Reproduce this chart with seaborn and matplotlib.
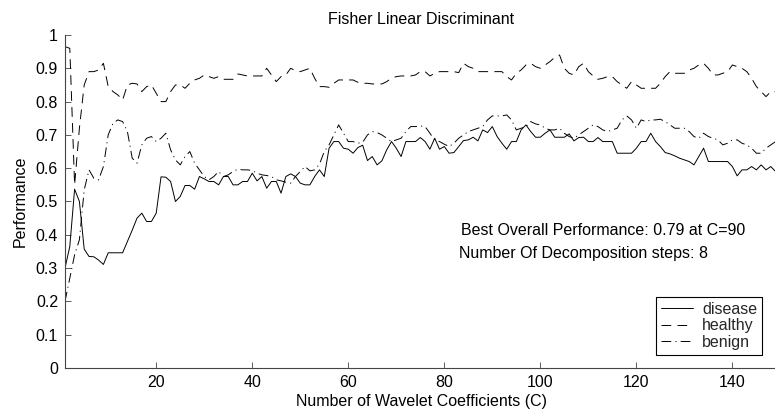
import numpy as np
import pandas as pd
import matplotlib
matplotlib.use("Agg")
import matplotlib.pyplot as plt
import seaborn as sns

# ---------------- data ----------------
C = list(range(1, 150))

disease = [
    0.300, 0.365, 0.537, 0.500, 0.357, 0.335, 0.334, 0.324, 0.311, 0.346,
    0.346, 0.346, 0.346, 0.380, 0.414, 0.450, 0.465, 0.440, 0.440, 0.465,
    0.574, 0.573, 0.560, 0.500, 0.515, 0.548, 0.548, 0.537, 0.575, 0.568,
    0.560, 0.560, 0.550, 0.575, 0.575, 0.550, 0.550, 0.560, 0.560, 0.585,
    0.562, 0.575, 0.540, 0.560, 0.560, 0.525, 0.575, 0.583, 0.575, 0.555,
    0.550, 0.550, 0.575, 0.595, 0.575, 0.660, 0.680, 0.680, 0.660, 0.657,
    0.645, 0.662, 0.669, 0.623, 0.635, 0.610, 0.622, 0.655, 0.680, 0.660,
    0.635, 0.680, 0.680, 0.680, 0.692, 0.680, 0.657, 0.690, 0.657, 0.665,
    0.645, 0.647, 0.665, 0.683, 0.685, 0.693, 0.682, 0.715, 0.707, 0.725,
    0.695, 0.675, 0.657, 0.680, 0.680, 0.715, 0.730, 0.710, 0.693, 0.693,
    0.705, 0.715, 0.693, 0.693, 0.693, 0.703, 0.682, 0.692, 0.693, 0.680,
    0.680, 0.692, 0.680, 0.680, 0.680, 0.645, 0.645, 0.645, 0.645, 0.660,
    0.680, 0.680, 0.705, 0.680, 0.665, 0.647, 0.643, 0.637, 0.630, 0.625,
    0.620, 0.610, 0.635, 0.660, 0.620, 0.620, 0.620, 0.620, 0.620, 0.605,
    0.577, 0.595, 0.595, 0.605, 0.595, 0.610, 0.595, 0.605, 0.590,
]

healthy = [
    0.965, 0.960, 0.550, 0.720, 0.850, 0.890, 0.890, 0.895, 0.915, 0.845,
    0.830, 0.820, 0.805, 0.850, 0.855, 0.853, 0.830, 0.845, 0.850, 0.825,
    0.800, 0.800, 0.830, 0.850, 0.850, 0.840, 0.855, 0.865, 0.870, 0.880,
    0.875, 0.870, 0.875, 0.867, 0.867, 0.867, 0.883, 0.880, 0.877, 0.877,
    0.877, 0.877, 0.900, 0.880, 0.860, 0.875, 0.880, 0.900, 0.893, 0.890,
    0.895, 0.900, 0.870, 0.845, 0.845, 0.843, 0.855, 0.865, 0.865, 0.865,
    0.865, 0.858, 0.855, 0.855, 0.853, 0.853, 0.853, 0.860, 0.870, 0.875,
    0.877, 0.877, 0.877, 0.880, 0.890, 0.890, 0.877, 0.885, 0.890, 0.890,
    0.890, 0.890, 0.887, 0.915, 0.905, 0.900, 0.890, 0.890, 0.890, 0.890,
    0.890, 0.890, 0.875, 0.865, 0.885, 0.895, 0.910, 0.915, 0.905, 0.900,
    0.910, 0.920, 0.933, 0.940, 0.900, 0.885, 0.880, 0.905, 0.915, 0.890,
    0.877, 0.867, 0.870, 0.875, 0.875, 0.860, 0.850, 0.840, 0.860, 0.850,
    0.840, 0.840, 0.840, 0.840, 0.855, 0.875, 0.890, 0.885, 0.885, 0.885,
    0.895, 0.900, 0.910, 0.915, 0.900, 0.880, 0.880, 0.885, 0.890, 0.910,
    0.905, 0.900, 0.890, 0.870, 0.845, 0.830, 0.815, 0.830, 0.830,
]

benign = [
    0.200, 0.270, 0.340, 0.385, 0.535, 0.595, 0.570, 0.565, 0.605, 0.700,
    0.735, 0.745, 0.740, 0.710, 0.630, 0.615, 0.670, 0.690, 0.695, 0.680,
    0.690, 0.705, 0.655, 0.625, 0.610, 0.635, 0.650, 0.615, 0.595, 0.575,
    0.565, 0.575, 0.590, 0.575, 0.580, 0.590, 0.597, 0.595, 0.595, 0.593,
    0.585, 0.580, 0.578, 0.575, 0.565, 0.562, 0.558, 0.555, 0.575, 0.590,
    0.605, 0.592, 0.595, 0.612, 0.650, 0.670, 0.700, 0.730, 0.705, 0.680,
    0.680, 0.675, 0.678, 0.700, 0.710, 0.707, 0.700, 0.690, 0.680, 0.685,
    0.690, 0.710, 0.725, 0.725, 0.727, 0.725, 0.705, 0.685, 0.680, 0.672,
    0.665, 0.675, 0.690, 0.700, 0.710, 0.715, 0.720, 0.725, 0.745, 0.757,
    0.757, 0.757, 0.760, 0.745, 0.715, 0.720, 0.725, 0.740, 0.733, 0.730,
    0.720, 0.715, 0.715, 0.720, 0.705, 0.695, 0.690, 0.700, 0.710, 0.720,
    0.730, 0.725, 0.715, 0.710, 0.715, 0.720, 0.745, 0.757, 0.745, 0.720,
    0.745, 0.740, 0.745, 0.745, 0.747, 0.740, 0.730, 0.720, 0.720, 0.720,
    0.710, 0.695, 0.690, 0.705, 0.695, 0.690, 0.685, 0.670, 0.675, 0.685,
    0.685, 0.675, 0.670, 0.660, 0.645, 0.645, 0.660, 0.670, 0.680,
]

series_names = ["disease", "healthy", "benign"]
x_ticks = [20, 40, 60, 80, 100, 120, 140]
y_ticks = [0, 0.1, 0.2, 0.3, 0.4, 0.5, 0.6, 0.7, 0.8, 0.9, 1]
y_tick_labels = ["0", "0.1", "0.2", "0.3", "0.4", "0.5", "0.6", "0.7", "0.8", "0.9", "1"]

title = "Fisher Linear Discriminant"
xlabel = "Number of Wavelet Coefficients (C)"
ylabel = "Performance"
note1 = "Best Overall Performance: 0.79 at C=90"
note2 = "Number Of Decomposition steps: 8"

df = pd.DataFrame({
    "C": C * 3,
    "Performance": disease + healthy + benign,
    "series": sum([[n] * len(C) for n in series_names], []),
})

# ---------------- style ----------------
sns.set_theme(style="white")
plt.rcParams["font.family"] = ["Liberation Sans", "DejaVu Sans"]
plt.rcParams["lines.scale_dashes"] = False

FS = 11.5
W, H = 775, 416
fig = plt.figure(figsize=(W / 100, H / 100), dpi=100)
fig.patch.set_facecolor("white")
ax = fig.add_axes([65 / W, 48 / H, 713 / W, 333 / H])
ax.set_facecolor("white")

styles = {"disease": "", "healthy": (7, 4.5), "benign": (7, 3, 0.8, 3)}
sns.lineplot(data=df, x="C", y="Performance", hue="series", style="series",
             palette={n: "black" for n in series_names}, dashes=styles,
             linewidth=0.7, ax=ax, legend=True)

ax.set_xlim(1, 149.5)
ax.set_ylim(0, 1)
ax.set_xticks(x_ticks)
ax.set_xticklabels([str(t) for t in x_ticks])
ax.set_yticks(y_ticks)
ax.set_yticklabels(y_tick_labels)

for s in ["top", "right"]:
    ax.spines[s].set_visible(False)
for s in ["left", "bottom"]:
    ax.spines[s].set_color("#444444")
    ax.spines[s].set_linewidth(0.8)

ax.tick_params(axis="both", direction="in", length=4.5, width=0.6, color="#444444",
               labelsize=FS, labelcolor="black", bottom=True, left=True)
ax.tick_params(axis="y", pad=5)
ax.tick_params(axis="x", pad=5)

ax.set_title(title, fontsize=FS, pad=8, color="black")
ax.set_xlabel(xlabel, fontsize=FS, labelpad=3, color="black")
ax.set_ylabel(ylabel, fontsize=FS, labelpad=6, color="black")

ax.text(0.555, 0.414, note1, transform=ax.transAxes, fontsize=FS,
        va="center", ha="left", color="black")
ax.text(0.552, 0.345, note2, transform=ax.transAxes, fontsize=FS,
        va="center", ha="left", color="black")

handles, labels = ax.get_legend_handles_labels()
leg = ax.legend(handles, labels, loc="upper right",
                bbox_to_anchor=(762 / W, (H - 297) / H),
                bbox_transform=fig.transFigure, borderaxespad=0,
                fancybox=False, edgecolor="black", framealpha=1,
                fontsize=FS, handlelength=2.0, handletextpad=0.6,
                labelspacing=0.1, borderpad=0.3)
leg.get_frame().set_linewidth(0.8)
for ln in leg.get_lines():
    ln.set_linewidth(0.7)

fig.savefig("out.png", dpi=100, facecolor="white")
